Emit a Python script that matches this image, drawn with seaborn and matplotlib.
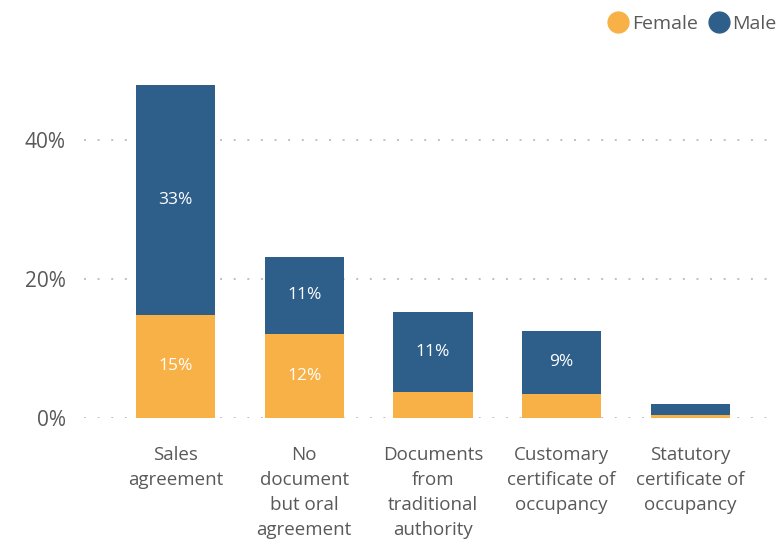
import pandas as pd
import matplotlib.pyplot as plt
import seaborn as sns
from matplotlib.lines import Line2D

categories = ["Sales\nagreement", "No\ndocument\nbut oral\nagreement",
              "Documents\nfrom\ntraditional\nauthority",
              "Customary\ncertificate of\noccupancy",
              "Statutory\ncertificate of\noccupancy"]
female = [14.8, 12.1, 3.8, 3.45, 0.43]
male = [33.1, 11.1, 11.5, 9.1, 1.6]
female_labels = ["15%", "12%", "", "", ""]
male_labels = ["33%", "11%", "11%", "9%", ""]

female_color = "#F8B146"
male_color = "#2E5F8A"
text_color = "#595959"

sns.set_theme(style="white")
plt.rcParams['font.family'] = ['Open Sans', 'DejaVu Sans']

df = pd.DataFrame({"category": categories, "female": female, "male": male})
df["total"] = df["female"] + df["male"]

fig = plt.figure(figsize=(7.78, 5.39), dpi=100)
ax = fig.add_axes([0.108, 0.2245, 0.892, 0.665])

# stacked: total in blue, female drawn over it
sns.barplot(data=df, x="category", y="total", color=male_color, width=0.615,
            saturation=1, linewidth=0, ax=ax, zorder=2)
sns.barplot(data=df, x="category", y="female", color=female_color, width=0.615,
            saturation=1, linewidth=0, ax=ax, zorder=3)

for i, row in df.iterrows():
    if female_labels[i]:
        ax.text(i, row["female"] / 2, female_labels[i], ha="center", va="center",
                color="white", fontsize=12.5, zorder=4)
    if male_labels[i]:
        ax.text(i, row["female"] + row["male"] / 2, male_labels[i], ha="center",
                va="center", color="white", fontsize=12.5, zorder=4)

ax.set_xlim(-0.71, 4.68)
ax.set_ylim(0, 51.5)
ax.set_yticks([0, 20, 40])
ax.set_yticklabels(["0%", "20%", "40%"])
for y in [0, 20, 40]:
    ax.axhline(y, color="#c0c0c0", lw=1.4, linestyle=(0, (1, 6)), zorder=1)

ax.set_xlabel("")
ax.set_ylabel("")
for s in ax.spines.values():
    s.set_visible(False)
ax.tick_params(axis="y", length=0, pad=13, labelsize=15, labelcolor=text_color)
ax.tick_params(axis="x", length=0, pad=20, labelsize=13.5, labelcolor=text_color)
for lab in ax.get_xticklabels():
    lab.set_linespacing(1.5)
    lab.set_va("top")

handles = [Line2D([], [], marker="o", linestyle="", markersize=15, color=female_color),
           Line2D([], [], marker="o", linestyle="", markersize=15, color=male_color)]
leg = fig.legend(handles, ["Female", "Male"], loc="upper right", bbox_to_anchor=(1.021, 1.005),
                 ncol=2, frameon=False, handletextpad=0.1, columnspacing=0.5,
                 handlelength=1.2, fontsize=14)
for t in leg.get_texts():
    t.set_color(text_color)

fig.savefig("out.png", dpi=100)
